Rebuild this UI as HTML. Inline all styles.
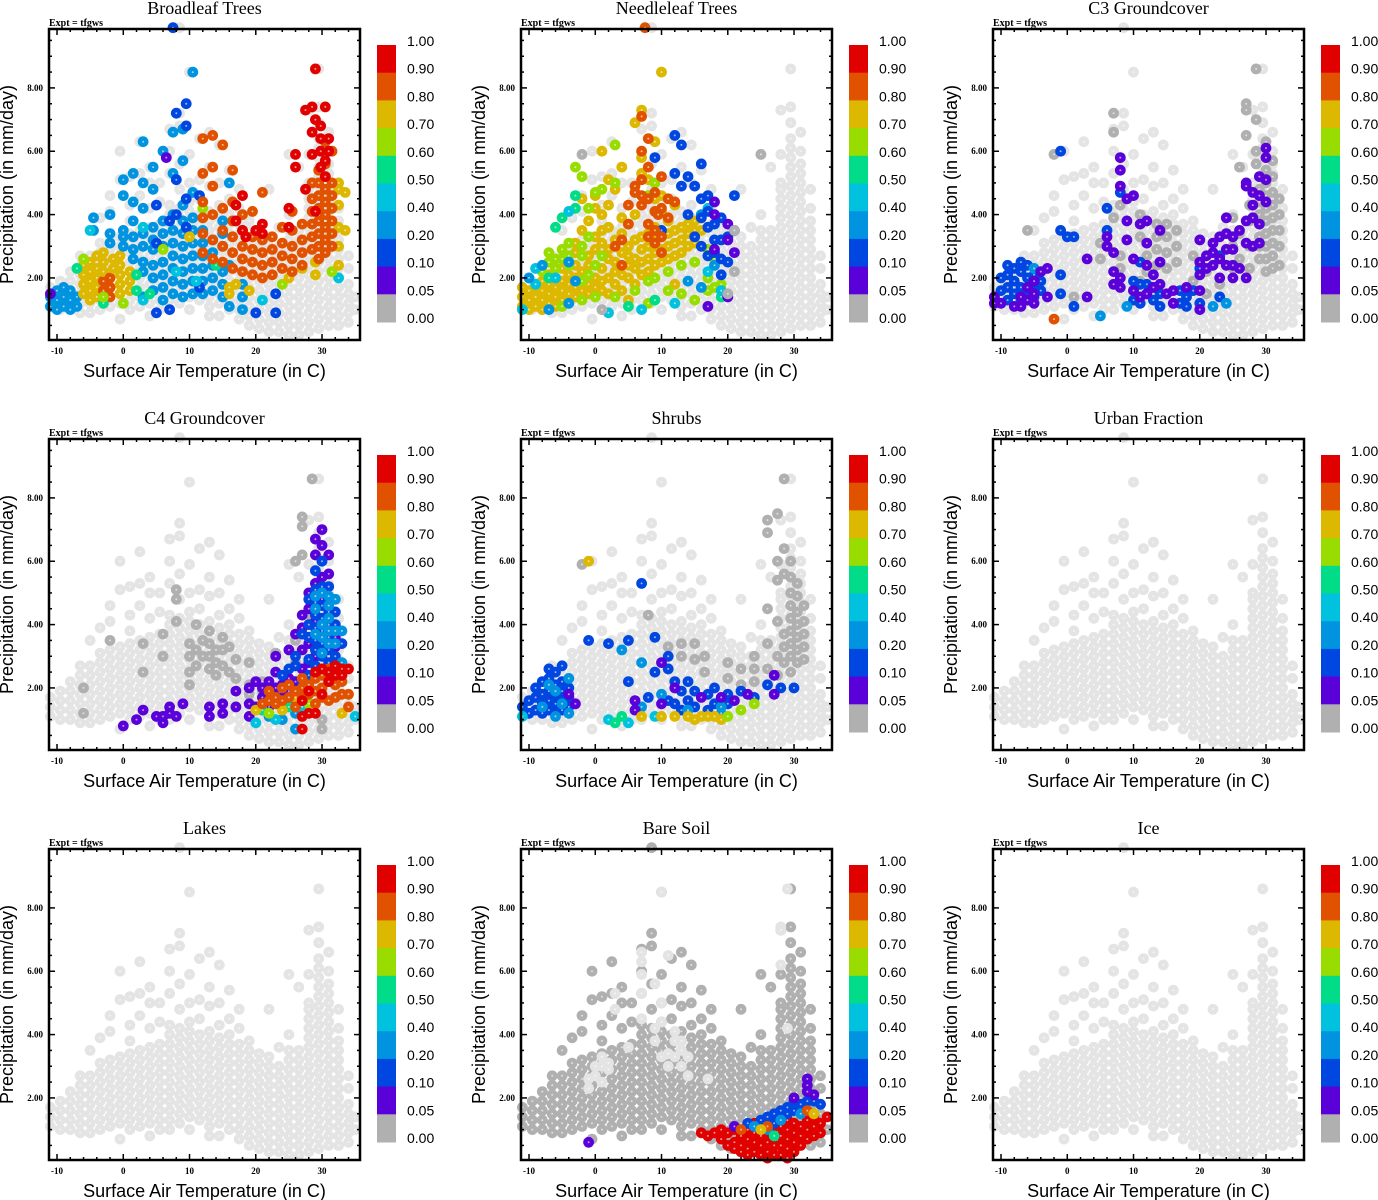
<!DOCTYPE html>
<html><head><meta charset="utf-8"><style>
html,body{margin:0;padding:0;background:#fff;}
svg{display:block}
</style></head><body>
<svg id="chart" width="1378" height="1200" viewBox="0 0 1378 1200" xmlns="http://www.w3.org/2000/svg"></svg>
<script>
// ---- data ----
const panelTitles = ["Broadleaf Trees","Needleleaf Trees","C3 Groundcover","C4 Groundcover","Shrubs","Urban Fraction","Lakes","Bare Soil","Ice"];
const xTicks = [-10,0,10,20,30];
const yTicks = [2,4,6,8];
const yTickLabels = ["2.00","4.00","6.00","8.00"];
const legendLabels = ["1.00","0.90","0.80","0.70","0.60","0.50","0.40","0.20","0.10","0.05","0.00"];
const classColors = ["#b0b0b0","#5a00d8","#0046e0","#0094e0","#00c2de","#00dc88","#98dc00","#ddb800","#e05200","#e00000","#e4e4e4"];
// base cloud: [temperature, "precip values"]
const baseCloud = [
[-11,"1.1 1.4 1.7"],[-9.5,"1.0 1.3 1.6 1.9"],[-8,"1.0 1.3 1.6 1.9 2.2"],[-6.5,"0.9 1.2 1.5 1.8 2.1 2.4 2.7"],
[-5,"0.9 1.2 1.5 1.8 2.1 2.4 2.7 3.5"],[-3.5,"1.0 1.3 1.6 1.9 2.2 2.5 2.8 3.1 3.9"],[-2,"1.1 1.4 1.7 2.0 2.3 2.6 2.9 3.2 4.1 4.6"],
[-0.5,"0.7 1.2 1.5 1.8 2.1 2.4 2.7 3.0 3.3 5.1 6.0"],[1,"1.0 1.3 1.6 1.9 2.2 2.5 2.8 3.1 3.4 3.8 4.3 5.2"],
[2.5,"1.1 1.4 1.7 2.0 2.3 2.6 2.9 3.2 3.5 4.6 5.3 6.3"],[4,"0.8 1.2 1.5 1.8 2.1 2.4 2.7 3.0 3.3 3.6 4.2 5.0 5.5"],
[5.5,"1.0 1.3 1.6 1.9 2.2 2.5 2.8 3.1 3.4 3.7 4.4 5.0"],[7,"1.0 1.3 1.6 1.9 2.2 2.5 2.8 3.1 3.4 3.7 4.0 4.3 5.3 6.0 6.7"],
[8.5,"1.2 1.5 1.8 2.1 2.4 2.7 3.0 3.3 3.6 3.9 4.2 4.8 5.6 6.8 7.2 9.9"],[10,"1.0 1.4 1.7 2.0 2.3 2.6 2.9 3.2 3.5 3.8 4.1 4.4 5.0 5.9 8.5"],
[11.5,"1.3 1.6 1.9 2.2 2.5 2.8 3.1 3.4 3.7 4.0 4.5 5.1 6.4"],[13,"0.8 1.1 1.4 1.7 2.0 2.3 2.6 2.9 3.2 3.5 3.8 4.1 4.9 5.5 6.6"],
[14.5,"0.8 1.2 1.5 1.8 2.1 2.4 2.7 3.0 3.3 3.6 3.9 4.3 5.0 6.2"],[16,"1.0 1.3 1.6 1.9 2.2 2.5 2.8 3.1 3.4 3.7 4.0 4.5 5.4"],
[17.5,"0.7 1.0 1.3 1.6 1.9 2.2 2.5 2.8 3.1 3.4 3.7 4.2 4.8"],[19,"0.5 0.8 1.1 1.4 1.7 2.0 2.3 2.6 2.9 3.2 3.5 3.8"],
[20.5,"0.4 0.7 1.0 1.3 1.6 1.9 2.2 2.5 2.8 3.1 3.4"],[22,"0.3 0.6 0.9 1.2 1.5 1.8 2.1 2.4 2.7 3.0 3.3 4.8"],
[23.5,"0.3 0.6 0.9 1.2 1.5 1.8 2.1 2.4 2.7 3.0 3.6"],[25,"0.2 0.5 0.8 1.1 1.4 1.7 2.0 2.3 2.6 2.9 3.2 3.5 4.0 5.9"],
[26.5,"0.2 0.5 0.8 1.1 1.4 1.7 2.0 2.3 2.6 2.9 3.2 3.5 5.5"],
[28,"0.3 0.6 0.9 1.2 1.5 1.8 2.1 2.4 2.7 3.0 3.3 3.6 3.9 4.2 4.5 4.8 5.0 5.9 7.3"],
[29.5,"0.4 0.7 1.0 1.3 1.6 1.9 2.2 2.5 2.8 3.1 3.4 3.7 4.0 4.3 4.6 4.9 5.2 5.5 5.8 6.1 6.4 6.9 7.4 8.6"],
[31,"0.5 0.8 1.1 1.4 1.7 2.0 2.3 2.6 2.9 3.2 3.5 3.8 4.1 4.4 4.7 5.0 5.3 5.6 6.0 6.6"],
[32.5,"0.5 0.8 1.1 1.4 1.7 2.0 2.3 2.6 2.9 3.2 3.5 3.8 4.2 4.8"],[34,"0.6 0.9 1.2 1.5 1.8 2.3 2.7"],[35,"1.0 1.4"]
];
// base cloud class per panel (10 = light gray, 0 = dark gray)
const baseClass = [10,10,10,10,10,10,10,0,10];
// overlays per panel: [temperature, class, "precip values"]
const overlay1 = [[-11,3,"1.1 1.4"],[-10,3,"1.0 1.3 1.6"],[-9,3,"1.1 1.4 1.7"],[-8,3,"1.0 1.3 1.6"],[-7,3,"1.1 1.4"],[-6,7,"1.5 1.8 2.1 2.4"],[-5,7,"1.3 1.6 1.9 2.2 2.5"],[-4,7,"1.4 1.7 2.0 2.3 2.7"],[-3,8,"1.6 1.9"],[-3,7,"2.2 2.5 2.8"],[-2,8,"1.4 1.7 2.0"],[-1.5,7,"2.3 2.6"],[-0.5,7,"1.5 1.8 2.1 2.4 2.7"],[1,7,"1.6 1.9 2.2"],[0,6,"1.2"],[-6,6,"2.6"],[-4.5,3,"3.5 3.9"],[-2,3,"3.1 3.4 4.0"],[0,3,"3.0 3.3 3.5 4.6 5.1"],[1.5,3,"2.6 2.9 3.3 3.8 4.4 5.3"],[3,3,"1.4 2.2 2.5 3.0 3.4 4.2 5.0 6.3"],[4.5,3,"1.6 2.0 2.4 2.9 3.2 3.6 4.8 5.5"],[6,3,"1.3 1.7 2.1 2.5 3.0 3.4 3.8 6.0"],[7.5,3,"1.5 1.9 2.3 2.7 3.1 3.5 4.0 5.3 6.6"],[9,3,"1.4 1.8 2.2 2.6 3.0 3.4 3.8 4.3 5.7 6.7"],[10.5,3,"1.5 1.9 2.3 2.7 3.1 3.5 3.9 4.7 8.5"],[12,3,"1.5 1.9 2.3 2.7 3.1 3.5"],[13.5,3,"1.6 2.0 2.4 2.8 3.2"],[15,3,"1.4 1.8 2.2 3.0 3.4 3.8"],[16,3,"1.1 2.4 5.0"],[18,3,"1.0 1.4 1.8"],
[5,2,"0.9 3.1 4.3"],[7,2,"1.0 3.8"],[8,2,"7.2 5.1 4.0"],[9.5,2,"7.5 6.8 3.6 4.5"],[11.5,2,"1.7 4.6"],[7.5,2,"9.9"],[20,2,"0.9"],[23,2,"0.9 1.5"],[-11,1,"1.5"],[6.5,1,"5.8"],
[-5,4,"3.5"],[3,4,"1.3 3.6"],[8,4,"2.2"],[11,4,"1.9"],[21,4,"1.3"],[32.5,4,"2.0"],[-7,5,"2.3"],[2,5,"1.6 2.1"],[4,5,"1.5"],[14,5,"2.4"],[-3,5,"1.2"],[-3,6,"1.4"],[6,6,"2.9"],[12,6,"4.2"],[24,6,"1.8"],[31.5,6,"2.2"],
[16,7,"1.7 1.5"],[17,7,"1.8"],[19,7,"1.6"],[25,7,"2.0"],[27,7,"2.3"],[32.5,7,"2.4 3.0 3.6 4.3 4.8 5.0"],[33.5,7,"3.5 4.7"],[29,7,"2.1 2.5"],[10,7,"3.3"],
[12,8,"2.8 3.4 3.9 4.4 5.3 6.4"],[13.5,8,"2.6 3.2 4.0 4.9 5.5 6.5"],[15,8,"2.5 3.0 3.5 6.2 4.2"],[16.5,8,"2.3 2.8 3.3 3.8 4.4 5.4"],[18,8,"2.2 2.6 3.0 3.5 4.0"],[19.5,8,"2.1 2.5 2.9 3.3 4.1"],[21,8,"2.0 2.4 2.8 3.2 4.7"],[22.5,8,"2.1 2.5 2.9 3.3"],[24,8,"2.3 2.7 3.1 3.6"],[25.5,8,"2.2 2.6 3.0 3.5 4.1"],[27,8,"2.4 2.8 3.2 3.7"],[28.5,8,"2.9 3.3 3.7 4.1 4.5 5.0"],[29.5,8,"2.6 3.0 3.4 3.8 4.2 4.6 5.0 5.4"],[30.5,8,"2.8 3.2 3.6 4.0 4.4 4.8 5.2 5.6 6.3"],[31.5,8,"3.0 3.4 3.8 4.2 4.6 5.0 6.0"],[-2,8,"1.7"],
[17,9,"3.8 4.3"],[18,9,"3.5 4.6"],[20,9,"3.5"],[21,9,"3.4 3.7"],[25,9,"3.6 4.2"],[26,9,"5.5 5.9"],[27.5,9,"4.8 7.3"],[28.5,9,"5.9 6.6 7.4"],[29,9,"4.1 7.0 8.6"],[29.8,9,"5.5 6.0 6.4 6.8"],[30.5,9,"5.2 5.7 7.4"],[18.5,9,"3.3"],[31,9,"6.4 6.0"]];
const overlay2 = [[-11,7,"1.1 1.4 1.7"],[-10,7,"1.0 1.3 1.6"],[-9,7,"1.1 1.4 1.7"],[-8,7,"1.0 1.3 1.6 1.9"],[-7,7,"1.2 1.5 1.8 2.1"],[-6,7,"1.1 1.4 1.7 2.0"],[-5,7,"1.3 1.6 1.9 2.3"],[-4,7,"1.5 1.8 2.1"],[-3,7,"1.4 1.7 2.0 2.4 2.8 3.1"],[-2,7,"1.6 2.2 3.5 4.5"],[-1,7,"1.5 1.8 2.4 2.7 3.8"],[0,7,"1.7 2.0 2.9 3.3 4.2 4.6"],[1,7,"1.6 1.9 2.3 3.1 3.5 4.0 6.0"],[2,7,"1.5 2.0 2.6 2.9 3.6 4.3 5.1"],[3,7,"1.8 2.2 2.5 3.2 4.8"],[4,7,"1.6 2.1 2.8 3.4 3.9 5.5"],[5,7,"2.0 2.4 2.7 3.0 3.7 1.3"],[6,7,"1.8 2.3 2.6 3.2 4.0 6.9"],[7,7,"2.1 2.5 2.9 3.3 5.3 5.8 7.3"],[8,7,"2.2 2.6 3.0 3.4 5.1"],[9,7,"2.4 2.8 3.2 3.6 4.5 6.3"],[10,7,"2.5 2.9 3.3 4.1 4.6 8.5"],[11,7,"2.6 3.0 3.4 3.8"],[12,7,"2.7 3.1 3.5 4.3 1.8"],[13,7,"2.8 3.2 3.6"],[14,7,"3.0 3.4 3.7"],[15,7,"3.1 3.5 3.8"],[16,7,"3.5 3.9"],
[-8,6,"2.2"],[-7,6,"2.5 2.8"],[-6,6,"2.3 2.6"],[-5,6,"2.6 2.9 1.1"],[-4,6,"2.4 2.7 3.1"],[-3,6,"5.5"],[-2,6,"1.3 1.9 2.7 3.0 5.2"],[-1,6,"2.1 3.3 4.2"],[0,6,"1.4 2.4 4.7"],[1,6,"2.7 4.8"],[3,6,"1.4 5.0 6.2"],[6,6,"1.6 4.7"],[8,6,"1.2 1.9 4.6"],[9,6,"2.0 5.0"],[11,6,"1.6 2.2"],[13,6,"1.5 2.4"],[15,6,"1.3 2.5"],[17,6,"1.6 2.0 2.9"],[18,6,"1.7 2.6"],[19,6,"1.8"],
[-6,5,"3.6"],[-5,5,"3.9"],[-3,5,"4.2 4.6"],[5,5,"1.1"],[9,5,"1.3"],[19,5,"1.4"],[-7,5,"2.0"],
[-9,4,"1.8 2.3"],[-6,4,"2.0"],[-4,4,"4.1"],[2,4,"0.9"],[7,4,"1.0"],[12,4,"1.2"],[17,4,"4.2 2.2"],[19,4,"1.6"],[-11,4,"1.0"],
[-10,3,"2.0"],[-8,3,"2.4"],[-7,3,"1.0"],[-4,3,"1.2 2.5"],[-3,3,"1.9"],[14,3,"1.9"],[16,3,"1.7 4.0"],[18,3,"2.4"],
[9,2,"5.8"],[10,2,"3.5"],[12,2,"6.5 5.3"],[13,2,"6.2 4.9"],[14,2,"5.2 4.0"],[15,2,"4.9 3.3"],[16,2,"5.6 4.5 3.9 3.0"],[17,2,"4.6 4.1 3.6 2.7"],[18,2,"3.7 3.2 2.8"],[19,2,"3.9 3.2 2.6 2.1"],[20,2,"3.3 2.5"],[21,2,"4.6"],
[18,1,"4.4 4.0 2.9"],[20,1,"3.2 3.7 1.4"],[21,1,"3.5 2.8"],[17,1,"1.1"],
[3,8,"3.0"],[4,8,"2.4 3.2"],[5,8,"3.7 4.3"],[6,8,"4.9 4.7"],[7,8,"4.3 4.6 5.1 6.0 7.1"],[8,8,"3.3 3.7 4.5 5.5 6.4"],[9,8,"3.1 3.5 4.1 4.7"],[10,8,"2.8 3.3 4.2 5.2"],[11,8,"4.5 3.9"],[12,8,"4.4"],[9.5,8,"4.0"],[7.5,8,"9.9"],
[-2,0,"5.9"],[1,0,"1.0"],[20,0,"1.5"],[21,0,"2.2 3.5"],[25,0,"5.9"]];
const overlay3 = [[27,0,"7.3 7.5 6.5"],[28.5,0,"8.6 7.0 6.0 5.6"],[29,0,"4.8 5.2 4.4 4.0 3.7 3.3 3.0 2.6"],[30,0,"6.3 5.8 5.4 5.0 4.6 4.2 3.8 3.4 3.0 2.6 2.2"],[31,0,"5.7 5.2 4.7 4.3 3.9 3.5 3.1 2.7 2.3"],[32,0,"4.5 4.0 3.5 3.0 2.4"],[27.5,0,"4.3 3.8 3.0 2.3"],[26,0,"3.4 5.5 2.6"],[25,0,"2.3 3.0 3.9"],[23,0,"2.7 1.8 1.4"],[21,0,"1.5 2.2"],[12,0,"2.7 3.1 2.2"],[13.5,0,"2.4 2.9 3.3 3.7"],[15,0,"2.3 2.8 3.3 3.7"],[16.5,0,"2.5 3.0 3.5"],[11,0,"1.9 2.5 3.3 4.0"],[8,0,"4.3 2.7 2.3"],[7,0,"3.9 7.2 6.6"],[-2,0,"5.9"],[-6,0,"3.5"],[1,0,"1.4"],[5,0,"2.6 3.1"],[19,0,"2.7 1.9"],
[-11,2,"1.4"],[-10,2,"1.6 2.0"],[-9,2,"1.3 1.7 2.1 2.4"],[-8,2,"1.5 1.9 2.3"],[-7,2,"1.3 1.7 2.2 2.5"],[-6,2,"1.6 2.0 2.4"],[-5,2,"1.4 1.8 2.1"],[-4,2,"1.6 1.9"],[-1,2,"6.0 3.5 2.1 1.5"],[0,2,"3.3"],[1,2,"1.1 3.3"],[6,2,"3.5 4.2"],[8,2,"4.7"],[10,2,"1.3 1.6 1.9"],[11,2,"1.8 1.2 2.5"],[12,2,"1.5 1.8"],[13,2,"1.3 1.7"],[14,2,"1.5 1.1"],[17,2,"1.2 1.6"],[18,2,"1.1 1.4"],[19,2,"1.6"],[20,2,"1.2 2.3"],[23,2,"1.4 2.7"],
[-5,3,"2.3"],[5,3,"0.8"],[9,3,"1.1"],[16,3,"1.2"],[22,3,"1.1"],[24,3,"1.2"],
[-11,1,"1.2 1.4"],[-10,1,"1.2"],[-8,1,"1.1"],[-7,1,"1.1 1.4"],[-6,1,"1.3 1.7"],[-5,1,"1.2 1.5 1.9"],[-4,1,"2.2"],[-3,1,"2.3 1.4"],[3,1,"1.4 2.6"],[6,1,"3.0 3.3"],[7,1,"2.8 2.2 1.8"],[8,1,"5.4 5.8 4.9 2.0 1.7"],[9,1,"3.2 4.5 3.8"],[10,1,"4.6 2.6 1.6"],[11,1,"3.7 1.4"],[12,1,"3.8 3.1 2.4 1.5"],[13,1,"2.1 1.7"],[14,1,"3.5 2.5 1.8"],[15,1,"1.5"],[16,1,"1.6 1.2"],[18,1,"1.7"],[20,1,"3.2 2.5 2.1 1.6 1.0"],[21,1,"2.7 2.3"],[22,1,"2.8 3.1 2.4"],[23,1,"3.3 2.6 2.0"],[24,1,"3.4 2.9 2.4 3.9"],[25,1,"2.4 2.9 3.3 2.0"],[26,1,"3.5 2.3"],[27,1,"5.0 4.9 3.8 3.1 2.0"],[28,1,"4.7 4.3 3.0 3.9"],[29,1,"5.2 4.6 3.7 3.1"],[30,1,"6.1 5.8 5.1 4.4"],
[-2,8,"0.7"]];
const overlay4 = [[-2,0,"3.5"],[3,0,"3.4 2.5"],[6,0,"3.7 3.0"],[8,0,"4.8 5.1 4.1"],[10,0,"3.4 3.0 2.5 2.1"],[11,0,"2.7 3.2 4.0"],[12,0,"3.0 3.5"],[13,0,"2.6 3.0 3.4 3.8"],[14,0,"2.8 3.2 2.4"],[15,0,"3.6 3.2 2.7"],[16,0,"2.5 3.3"],[17,0,"2.9 2.3"],[19,0,"2.8 2.1 1.8"],[21,0,"2.2 1.9"],[23,0,"2.5 1.8 3.1"],[26,0,"6.0 3.5 2.8"],[27,0,"7.4 7.1 6.2 2.6"],[28.5,0,"8.6 5.0 4.2 2.3"],[-6,0,"1.2 2.0"],[30,0,"0.7 1.0"],
[5,1,"1.1"],[6,1,"1.1 0.9"],[7,1,"1.2 1.4"],[8,1,"1.1"],[9,1,"1.5"],[3,1,"1.3"],[2,1,"1.0"],[0,1,"0.8"],[13,1,"1.1 1.4"],[15,1,"1.2 1.5"],[17,1,"1.4 1.9"],[19,1,"1.1 1.5 2.0"],[20,1,"1.4 2.2"],[21,1,"2.0 1.7 1.3"],[22,1,"2.2 1.8 1.4"],[23,1,"2.5 2.0 3.0"],[24,1,"2.1 1.7"],[25,1,"1.9 2.3 3.2"],[26,1,"2.2 1.5 3.7"],[27,1,"2.6 3.2 3.9 4.3"],[28,1,"4.5 3.4 2.8 5.0"],[29,1,"6.2 6.7 5.3 4.1 3.0"],[30,1,"7.0 6.5 5.5 4.8"],[31,1,"6.2 5.6 3.9"],[32,1,"3.6 3.3"],
[24,2,"2.4"],[25,2,"2.6 1.6"],[26,2,"3.0 2.7"],[27,2,"3.7 2.2"],[28,2,"4.8 4.0 3.6 2.9 2.4"],[29,2,"5.7 5.1 4.7 4.3 3.9 3.5 3.2 2.7"],[30,2,"6.0 5.2 4.6 4.2 3.8 3.4 3.0 2.5"],[31,2,"5.2 4.8 4.4 4.0 3.6 3.2 2.8"],[32,2,"4.4 4.0 3.0 2.6"],[33,2,"3.4"],
[29,3,"4.9 4.5 3.7"],[30,3,"5.0 4.0 3.6 3.1"],[31,3,"4.6 4.2 3.8 3.4 4.9"],[32,3,"3.8 3.4 4.8"],[33,3,"2.8 3.8"],[24,3,"1.0"],[26,3,"1.2 0.7"],[22,3,"1.1"],
[20,4,"0.9"],[23,4,"1.0"],[27,4,"1.4"],[35,4,"1.1"],[21,5,"1.3"],[25,5,"1.4"],[22,6,"1.2"],[28,6,"1.5"],[20,7,"1.3"],[24,7,"1.3"],[26,7,"1.7"],[33,7,"1.2"],
[21,8,"1.5"],[22,8,"1.6 1.9"],[23,8,"1.5 1.7"],[24,8,"1.6 2.0"],[25,8,"1.7 2.1"],[26,8,"1.9 1.4"],[27,8,"1.7 2.3 2.0"],[28,8,"1.8 2.1"],[29,8,"1.9 2.3 1.5"],[30,8,"2.0 2.4 1.7"],[31,8,"2.2 1.6 2.6"],[32,8,"1.7 2.1 2.5"],[33,8,"1.8 2.2"],[34,8,"1.8 1.4"],
[27,9,"1.1 0.7 1.6"],[28,9,"1.2 1.9"],[29,9,"2.5 1.2"],[30,9,"2.6 1.8"],[31,9,"2.2 2.5"],[32,9,"2.7 2.4"],[33,9,"2.6 2.4"],[34,9,"2.6"]];
const overlay5 = [[26,0,"7.3 6.9 4.5 3.4 2.6"],[27.5,0,"7.5 6.0 5.4 4.1 3.0 2.4"],[28.5,0,"8.6 6.4 5.6 3.7 3.3 2.8"],[29.5,0,"6.0 5.5 5.0 4.6 4.2 3.8 3.4 3.0 2.5"],[30.5,0,"5.3 4.9 4.4 4.0 3.6 3.2 2.8"],[31.5,0,"4.6 4.1 3.7 3.3 2.9"],[24,0,"3.0 2.6 2.2"],[22,0,"2.6 2.1"],[20,0,"2.3 2.8"],[13,0,"3.0 3.4"],[15,0,"3.4 2.9"],[16.5,0,"2.5 3.0"],[11,0,"2.6 3.3"],[8,0,"4.3"],[-2,0,"5.9"],
[-11,2,"1.4"],[-10,2,"1.2 1.6"],[-9,2,"1.3 1.7 2.0"],[-8,2,"1.2 1.5 1.8 2.2"],[-7,2,"1.3 1.6 1.9 2.3 2.6"],[-6,2,"1.2 1.5 1.8 2.1 2.5"],[-5,2,"1.3 1.6 1.9 2.2 2.7"],[-4,2,"1.4 1.7 2.0"],[-1,2,"3.5"],[2,2,"3.4"],[5,2,"2.2 3.5"],[7,2,"5.3"],[8,2,"1.7"],[9,2,"3.6 2.5"],[11,2,"1.6 2.6 3.0"],[12,2,"1.5 2.2"],[13,2,"1.9 1.3"],[14,2,"1.6 2.2"],[15,2,"1.4 1.9"],[17,2,"1.8 1.3"],[18,2,"2.0 1.5"],[20,2,"1.5 1.8"],[22,2,"1.9"],[24,2,"1.7"],[26,2,"2.1"],[28,2,"2.0"],[30,2,"2.0"],
[-8,3,"1.4"],[-6,3,"1.9 1.1"],[-5,3,"1.5"],[-4,3,"2.3 1.2"],[-7,3,"2.1"],[4,3,"3.2"],[7,3,"1.4 2.8"],[10,3,"1.8"],[14,3,"1.3"],[19,3,"1.4 1.2"],
[-4,1,"1.8"],[-3,1,"1.5"],[6,1,"1.6 1.3"],[10,1,"1.5 2.8"],[12,1,"2.0"],[16,1,"1.7"],[19,1,"1.7"],[21,1,"1.6"],[23,1,"1.8"],[27,1,"2.4 1.8"],
[2,4,"1.0"],[5,4,"0.9"],[9,4,"1.1"],[-11,4,"1.1"],
[-1,7,"6.0"],[10,7,"1.1"],[12,7,"1.1"],[14,7,"1.1"],[15,7,"1.0"],[16,7,"1.1"],[17,7,"1.1"],[18,7,"1.1"],[19,7,"1.0"],[7,7,"1.1"],
[20,6,"1.1"],[22,6,"1.3"],[24,6,"1.5"],[3,5,"0.9"],[4,5,"1.1"]];
const overlay8 = [[7,10,"4.5 5.3 5.9 6.3 6.6"],[9,10,"3.8 5.6 4.2"],[10,10,"8.5 3.3 4.4 5.0"],[11,10,"6.5 3.4 3.0"],[12,10,"3.3 3.8 4.1"],[13,10,"3.5 3.0 3.8"],[14,10,"3.3 2.7"],[-1,10,"2.3 2.6"],[0,10,"2.7 3.0"],[1,10,"2.5 3.0 3.3"],[2,10,"2.9 3.1"],[3,10,"4.8 5.3"],[28,10,"7.4 7.3 6.2"],[29,10,"8.6 4.2"],[5,10,"3.6"],[17,10,"2.6"],
[16,9,"0.9"],[17,9,"0.8"],[18,9,"0.9"],[19,9,"0.7 1.0"],[20,9,"0.9 0.5"],[21,9,"0.6 1.0 0.4"],[22,9,"0.5 0.8 0.3"],[23,9,"0.4 0.7 1.0 0.2"],[24,9,"0.3 0.6 0.9 1.2"],[25,9,"0.2 0.5 0.8 1.1"],[26,9,"0.3 0.6 0.9 0.1"],[27,9,"0.2 0.5 0.8 1.1"],[28,9,"0.2 0.5 0.8 1.1"],[29,9,"0.1 0.4 0.7 1.0 1.3"],[30,9,"0.3 0.6 0.9 1.2"],[31,9,"0.5 0.8 1.1"],[32,9,"0.7 1.0 1.3"],[33,9,"0.8 1.1 1.4"],[34,9,"0.9 1.2"],[35,9,"1.4"],
[23,2,"1.2"],[25,2,"1.3"],[26,2,"1.4"],[27,2,"1.5 1.2"],[28,2,"1.6"],[29,2,"1.5 1.7"],[30,2,"1.6 1.9"],[31,2,"1.8"],[32,2,"1.9"],[33,2,"1.9"],[34,2,"1.8"],
[24,3,"1.1"],[26,3,"1.0"],[28,3,"1.3"],[31,3,"1.5"],[-1,1,"0.6"],[21,1,"1.1"],[30,1,"2.0"],[32,1,"2.4 2.2 2.6"],[33,1,"2.1"],
[22,8,"1.0"],[26,8,"1.1"],[32,8,"1.6"],[33,7,"1.5"],[25,7,"1.0"],[27,5,"0.8"]];
const overlays = [overlay1,overlay2,overlay3,overlay4,overlay5,[],[],overlay8,[]];

// ---- drawing ----
const NS = "http://www.w3.org/2000/svg";
const svg = document.getElementById('chart');
function mk(tag, attrs, parent){const e=document.createElementNS(NS,tag);for(const k in attrs)e.setAttribute(k,attrs[k]);(parent||svg).appendChild(e);return e;}
const PW=311, PH=311, XMIN=-11.21, XMAX=35.73, YMIN=0.04, YMAX=9.86;
const sx = t => (t-XMIN)/(XMAX-XMIN)*PW;
const sy = p => PH-(p-YMIN)/(YMAX-YMIN)*PH;
const serif = '"Liberation Serif", serif', sans = '"Liberation Sans", sans-serif';

panelTitles.forEach((title, i) => {
  const ox = 49 + (i%3)*472, oy = 29 + Math.floor(i/3)*410;
  const g = mk('g', {transform:`translate(${ox},${oy})`});
  
  
  const t = mk('text', {x:PW/2, y:-15, 'text-anchor':'middle', 'font-family':serif, 'font-size':18, fill:'#000'}, g);
  t.textContent = title;
  
  
  const ex = mk('text', {x:0, y:-3, 'font-family':serif, 'font-size':10, 'font-weight':'bold', fill:'#000'}, g);
  ex.textContent = 'Expt = tfgws';
  
  
  const pts = mk('g', {}, g);
  
  
  function dot(T, P, c){
    const col = classColors[c];
    const cEl = mk('circle', {cx:sx(T).toFixed(1), cy:sy(P).toFixed(1), r:5.4, fill:col}, pts);
    
    
    mk('circle', {cx:sx(T).toFixed(1), cy:sy(P).toFixed(1), r:1, fill:'#fff', 'fill-opacity':0.6}, pts);
  }
  baseCloud.forEach(([T, ps]) => ps.split(' ').forEach(p => dot(T, +p, baseClass[i])));
  overlays[i].forEach(([T, c, ps]) => ps.split(' ').forEach(p => dot(T, +p, c)));
  const fr = mk('rect', {x:0, y:0, width:PW, height:PH, fill:'none', stroke:'#000', 'stroke-width':2.5}, g);
  
  
  for (let v=-10; v<=34; v+=2){
    const x = sx(v), major = v%10===0, L = major?6:3;
    mk('line', {x1:x, y1:PH, x2:x, y2:PH-L, stroke:'#000', 'stroke-width':1.5}, g);
    mk('line', {x1:x, y1:0, x2:x, y2:L, stroke:'#000', 'stroke-width':1.5}, g);
  }
  for (let v=0.5; v<=9.5; v+=0.5){
    const y = sy(v), major = v%2===0, L = major?6:3;
    mk('line', {x1:0, y1:y, x2:L, y2:y, stroke:'#000', 'stroke-width':1.5}, g);
    mk('line', {x1:PW, y1:y, x2:PW-L, y2:y, stroke:'#000', 'stroke-width':1.5}, g);
  }
  xTicks.forEach(v => {
    const tl = mk('text', {x:sx(v), y:PH+14, 'text-anchor':'middle', 'font-family':serif, 'font-size':9, 'font-weight':'bold', fill:'#000'}, g);
    tl.textContent = v;
    
    
  });
  yTicks.forEach((v, k) => {
    const tl = mk('text', {x:-6, y:sy(v)+3, 'text-anchor':'end', 'font-family':serif, 'font-size':9, 'font-weight':'bold', fill:'#000'}, g);
    tl.textContent = yTickLabels[k];
    
    
  });
  const xt = mk('text', {x:PW/2, y:PH+37, 'text-anchor':'middle', 'font-family':sans, 'font-size':18, fill:'#000'}, g);
  xt.textContent = 'Surface Air Temperature (in C)';
  
  
  const yt = mk('text', {x:0, y:0, transform:`translate(-36,${PH/2}) rotate(-90)`, 'text-anchor':'middle', 'font-family':sans, 'font-size':18, fill:'#000'}, g);
  yt.textContent = 'Precipitation (in mm/day)';
  
  
  const cb = mk('g', {transform:'translate(328,16)'}, g);
  
  
  const bh = 27.7;
  for (let k=0; k<10; k++){
    const r = mk('rect', {x:0, y:k*bh, width:19, height:bh+0.5, fill:classColors[9-k]}, cb);
    
    
  }
  legendLabels.forEach((lab, k) => {
    const tl = mk('text', {x:30, y:k*bh+1, 'font-family':sans, 'font-size':14, fill:'#000'}, cb);
    tl.textContent = lab;
    
    
  });
});
</script>
</body></html>
